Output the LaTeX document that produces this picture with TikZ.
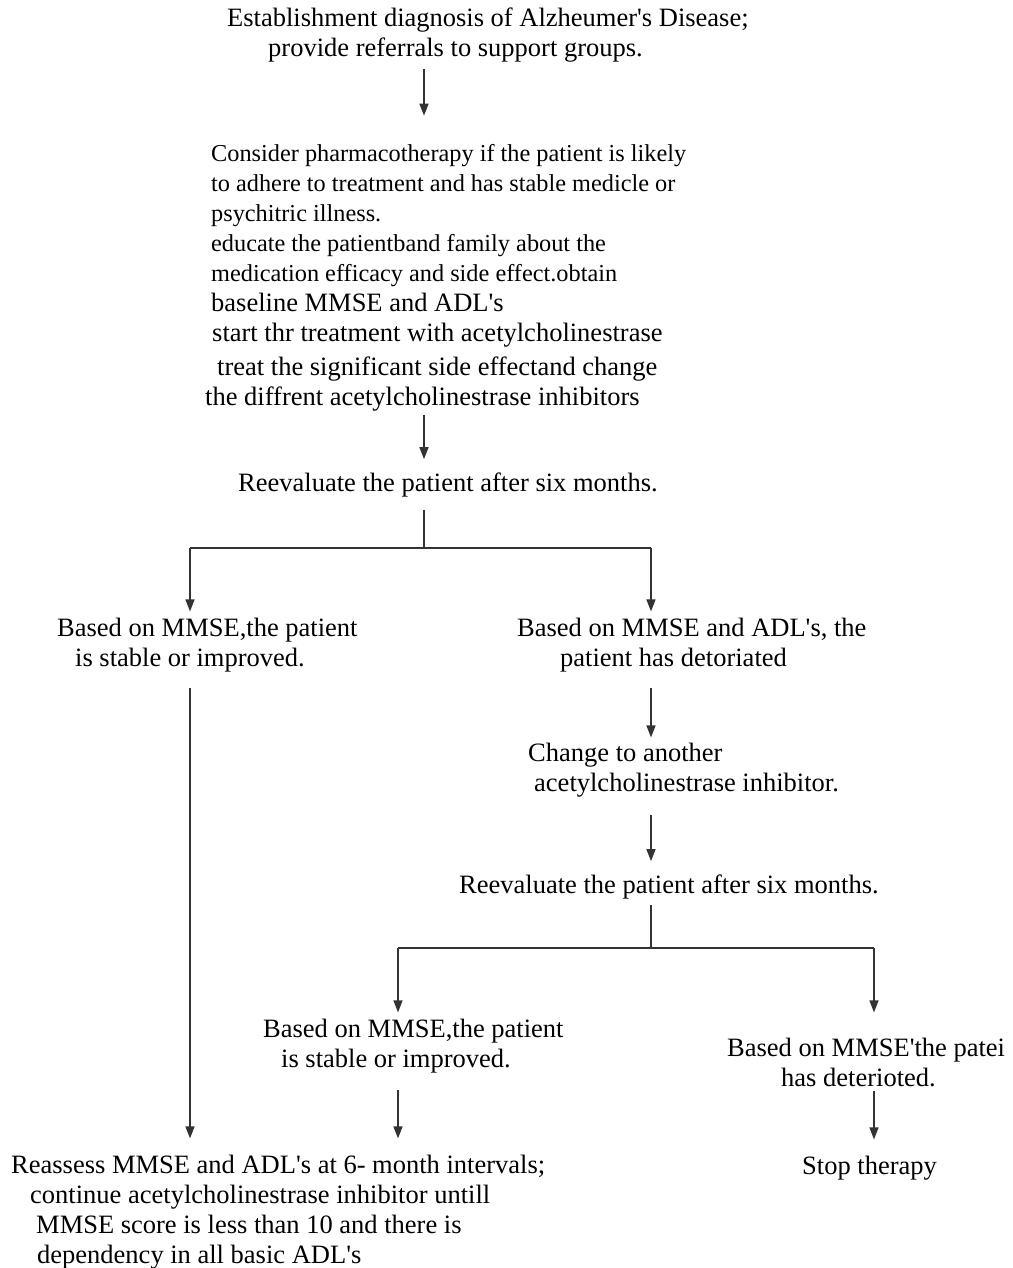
\documentclass[tikz,border=0pt]{standalone}
\usepackage{fontspec}
\setmainfont{Liberation Serif}
\usetikzlibrary{arrows.meta}
\newcommand{\ap}{\textquotesingle}
\newcommand{\smtxt}{\fontsize{24.3}{30}\selectfont}
\newcommand{\bgtxt}{\fontsize{26.5}{30}\selectfont}
\tikzset{
	txt/.style={anchor=base west, inner sep=0pt, align=left, font=\bgtxt},
	arr/.style={-{Triangle[length=12pt,width=9pt]}, line width=1.4pt, black!80},
	ln/.style={-, line width=1.4pt, black!80}
}
\begin{document}
\begin{tikzpicture}[x=1pt, y=-1pt]
	\useasboundingbox (0,0) rectangle (1012,1268);
	%columns of the arrows
	\coordinate (colA) at (424,0);
	\coordinate (colL) at (190,0);
	\coordinate (colR) at (651,0);
	\coordinate (colLL) at (398,0);
	\coordinate (colRR) at (874,0);
	
	%diagnosis (base = last line)
	\node[txt] (diag) at (227, 57) {Establishment diagnosis of Alzheumer\ap s Disease;\\
		\hspace*{41pt}provide referrals to support groups.};
	
	%pharmacotherapy
	\node[txt] (pharm) at (205, 405) {\hspace*{6pt}\smtxt Consider pharmacotherapy if the patient is likely\\
		\hspace*{6pt}\smtxt to adhere to treatment and has stable medicle or\\
		\hspace*{6pt}\smtxt psychitric illness.\\
		\hspace*{6pt}\smtxt educate the patientband family about the\\
		\hspace*{6pt}\smtxt medication efficacy and side effect.obtain\\
		\hspace*{6pt}\bgtxt baseline MMSE and ADL\ap s\\
		\hspace*{7pt}\bgtxt start thr treatment with acetylcholinestrase\\[4pt]
		\hspace*{12pt}\bgtxt treat the significant side effectand change\\
		\bgtxt the diffrent acetylcholinestrase inhibitors};
	
	%first reevaluation
	\node[txt] (reevA) at (238, 491) {Reevaluate the patient after six months.};
	\coordinate (jnA) at (424, 548);
	
	\node[txt] (stabA) at (57, 666) {Based on MMSE,the patient\\
		\hspace*{18pt}is stable or improved.};
	\node[txt] (detA) at (517, 666) {Based on MMSE and ADL\ap s, the\\
		\hspace*{43pt}patient has detoriated};
	
	%second drug
	\node[txt] (change) at (528, 791) {Change to another\\
		\hspace*{6pt}acetylcholinestrase inhibitor.};
	
	%second reevaluation
	\node[txt] (reevB) at (459, 893) {Reevaluate the patient after six months.};
	\coordinate (jnB) at (651, 948);
	
	\node[txt] (stabB) at (263, 1067) {Based on MMSE,the patient\\
		\hspace*{18pt}is stable or improved.};
	\node[txt] (detB) at (727, 1086) {Based on MMSE\ap the patei\\
		\hspace*{54pt}has deterioted.};
	
	%outcomes
	\node[txt] (reass) at (11, 1263) {Reassess MMSE and ADL\ap s at 6- month intervals;\\
		\hspace*{19pt}continue acetylcholinestrase inhibitor untill\\
		\hspace*{25pt}MMSE score is less than 10 and there is\\
		\hspace*{26pt}dependency in all basic ADL\ap s};
	\node[txt] (stop) at (802, 1174) {Stop therapy};
	
	%arrows down the middle
	\draw[arr] ([yshift=-6pt]colA |- diag.south) -- ([yshift=28pt]colA |- pharm.north);
	\draw[arr] ([yshift=-4pt]colA |- pharm.south) -- ([yshift=13pt]colA |- reevA.north);
	
	%first split
	\draw[ln] ([yshift=-13pt]colA |- reevA.south) -- (jnA);
	\draw[ln] (colL |- jnA) -- (colR |- jnA);
	\draw[arr] (colL |- jnA) -- ([yshift=6pt]colL |- stabA.north);
	\draw[arr] (colR |- jnA) -- ([yshift=6pt]colR |- detA.north);
	\draw[arr] ([yshift=-16pt]colL |- stabA.south) -- ([yshift=16pt]colL |- reass.north);
	\draw[arr] ([yshift=-16pt]colR |- detA.south) -- ([yshift=5pt]colR |- change.north);
	\draw[arr] ([yshift=-18pt]colR |- change.south) -- ([yshift=13pt]colR |- reevB.north);
	
	%second split
	\draw[ln] ([yshift=-6pt]colR |- reevB.south) -- (jnB);
	\draw[ln] (colLL |- jnB) -- (colRR |- jnB);
	\draw[arr] (colLL |- jnB) -- ([yshift=6pt]colLL |- stabB.north);
	\draw[arr] (colRR |- jnB) -- ([yshift=25pt]colRR |- detB.north);
	\draw[arr] ([yshift=-17pt]colLL |- stabB.south) -- ([yshift=16pt]colLL |- reass.north);
	\draw[arr] ([yshift=-4pt]colRR |- detB.south) -- ([yshift=16pt]colRR |- stop.north);
\end{tikzpicture}
\end{document}
